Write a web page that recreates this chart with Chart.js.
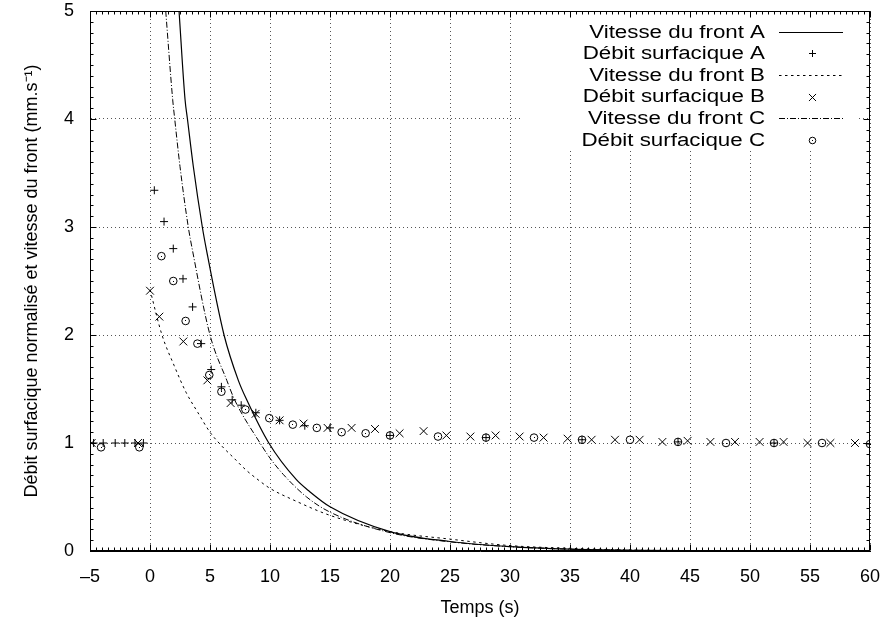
<!DOCTYPE html>
<html>
<head>
<meta charset="utf-8">
<script src="https://cdn.jsdelivr.net/npm/chart.js@4.4.1/dist/chart.umd.min.js"></script>
<style>
html,body{margin:0;padding:0;background:#fff;}
#wrap{width:888px;height:623px;}
</style>
</head>
<body>
<div id="wrap"><canvas id="chart1" width="888" height="623"></canvas></div>
<script>
// front speed curves
var frontA_t = [2.42, 2.92, 3.12, 3.61, 4.36, 4.7, 6.17, 7.36, 8.06, 9.9, 12.2, 13.2, 15, 20, 25, 30, 35, 40, 50, 60];
var frontA_v = [5.0, 4.18, 4.0, 3.56, 3.0, 2.79, 2.0, 1.58, 1.40, 1.0, 0.66, 0.56, 0.41, 0.18, 0.088, 0.04, 0.017, 0.007, 0.001, 0];
var frontB_t = [0, 1, 2, 3, 4, 5, 6, 7, 8, 9, 10, 12, 15, 20, 25, 30, 35, 40, 50, 60];
var frontB_v = [2.42, 2.0, 1.72, 1.47, 1.28, 1.1, 0.97, 0.86, 0.75, 0.66, 0.58, 0.47, 0.33, 0.18, 0.11, 0.05, 0.025, 0.01, 0.002, 0];
var frontC_t = [1.31, 1.89, 2.06, 2.5, 3.19, 3.53, 5.0, 6.4, 7.05, 9.17, 10, 11.1, 13.05, 15, 20, 25, 30, 35, 40, 50, 60];
var frontC_v = [5.0, 4.18, 4.0, 3.56, 3.0, 2.79, 2.0, 1.58, 1.40, 1.0, 0.86, 0.71, 0.50, 0.36, 0.17, 0.085, 0.04, 0.017, 0.007, 0.001, 0];

// measured surface flow rates
var debitA_t = [-4.7, -3.9, -2.9, -2.1, -1.25, -0.55, 0.36, 1.17, 1.94, 2.75, 3.55, 4.27, 5.1, 5.95, 6.85, 7.6, 8.82, 10.8, 12.9, 15, 20, 28, 36, 44, 52, 60];
var debitA_v = [1.0, 1.0, 1.0, 1.0, 1.0, 1.0, 3.34, 3.05, 2.80, 2.52, 2.26, 1.92, 1.68, 1.52, 1.40, 1.35, 1.28, 1.21, 1.16, 1.14, 1.07, 1.05, 1.03, 1.01, 1.0, 0.99];
var debitB_t = [-4.86, -1.0, 0, 0.78, 2.78, 4.78, 6.72, 8.8, 10.8, 12.8, 14.8, 16.8, 18.75, 20.8, 22.8, 24.7, 26.7, 28.8, 30.8, 32.8, 34.8, 36.8, 38.75, 40.8, 42.7, 44.8, 46.7, 48.75, 50.8, 52.8, 54.8, 56.7, 58.75];
var debitB_v = [1.0, 1.0, 2.41, 2.17, 1.94, 1.58, 1.37, 1.27, 1.21, 1.18, 1.14, 1.14, 1.13, 1.09, 1.11, 1.07, 1.06, 1.07, 1.06, 1.05, 1.04, 1.03, 1.03, 1.03, 1.01, 1.02, 1.01, 1.01, 1.01, 1.01, 1.0, 1.0, 1.0];
var debitC_t = [-4.08, -0.89, 0.95, 1.94, 2.97, 3.95, 4.94, 5.95, 7.95, 9.94, 11.9, 13.9, 15.97, 17.97, 20, 24, 28, 32, 36, 40, 44, 48, 52, 56, 60];
var debitC_v = [0.96, 0.96, 2.73, 2.50, 2.13, 1.92, 1.63, 1.475, 1.31, 1.23, 1.17, 1.14, 1.10, 1.09, 1.07, 1.06, 1.05, 1.05, 1.03, 1.03, 1.01, 1.0, 1.0, 1.0, 0.99];

var xTicks = [-5, 0, 5, 10, 15, 20, 25, 30, 35, 40, 45, 50, 55, 60];
var yTicks = [0, 1, 2, 3, 4, 5];

function pts(ts, vs) {
  return ts.map(function(t, i) { return {x: t, y: vs[i]}; });
}

Chart.defaults.font.family = '"Liberation Sans", Arial, Helvetica, sans-serif';
Chart.defaults.font.size = 18;
Chart.defaults.color = '#000';

function lineSet(label, ts, vs, dash, w) {
  return {label: label, data: pts(ts, vs), showLine: true, pointRadius: 0, pointHoverRadius: 0,
    borderColor: '#000', borderWidth: w, borderDash: dash, fill: false, cubicInterpolationMode: 'monotone'};
}
function markSet(label, ts, vs, style, r) {
  return {label: label, data: pts(ts, vs), showLine: false, pointStyle: style, pointRadius: r,
    pointBorderWidth: 1, borderColor: '#000', backgroundColor: 'rgba(0,0,0,0)'};
}

var sets = [
  lineSet('Vitesse du front A', frontA_t, frontA_v, [], 1.2),
  markSet('Débit surfacique A', debitA_t, debitA_v, 'cross', 4),
  lineSet('Vitesse du front B', frontB_t, frontB_v, [2.5, 3.5], 1),
  markSet('Débit surfacique B', debitB_t, debitB_v, 'crossRot', 5.5),
  lineSet('Vitesse du front C', frontC_t, frontC_v, [6, 2, 1, 2], 1),
  markSet('Débit surfacique C', debitC_t, debitC_v, 'circle', 3.8)
];
sets[5].dotted = true;

var frame = {
  id: 'frame',
  beforeDatasetsDraw: function(chart) {
    var ctx = chart.ctx, a = chart.chartArea, xs = chart.scales.x, ys = chart.scales.y;
    ctx.save();
    // legend box hides the grid behind it
    ctx.fillStyle = '#fff';
    ctx.fillRect(521, Math.round(a.top) + 1, 336, 150 - Math.round(a.top));
    ctx.strokeStyle = '#000'; ctx.lineWidth = 1; ctx.setLineDash([]);
    var L = Math.round(a.left) + 0.5, R = Math.round(a.right) - 0.5, T = Math.round(a.top) + 0.5, B = Math.round(a.bottom) - 0.5;
    ctx.strokeRect(L, T, R - L, B - T);
    ctx.beginPath();
    var i, px, len;
    for (i = 0; i <= 130; i++) {
      px = Math.round(xs.getPixelForValue(-5 + i * 0.5)) + 0.5;
      len = (i % 10 === 0) ? 6 : 3;
      ctx.moveTo(px, B); ctx.lineTo(px, B - len);
      ctx.moveTo(px, T); ctx.lineTo(px, T + len);
    }
    for (i = 0; i <= 50; i++) {
      px = Math.round(ys.getPixelForValue(i * 0.1)) + 0.5;
      len = (i % 10 === 0) ? 6 : 3;
      ctx.moveTo(L, px); ctx.lineTo(L + len, px);
      ctx.moveTo(R, px); ctx.lineTo(R - len, px);
    }
    ctx.stroke();

    // legend
    ctx.font = '18px "Liberation Sans", Arial, sans-serif';
    ctx.textAlign = 'right';
    ctx.textBaseline = 'middle';
    chart.data.datasets.forEach(function(ds, k) {
      var y = 31.7 + k * 21.6;
      ctx.save();
      ctx.fillStyle = '#000';
      ctx.translate(765, y + 1);
      ctx.scale(1.24, 1);
      ctx.fillText(ds.label, 0, 0);
      ctx.restore();
      if (ds.showLine) {
        ctx.save();
        ctx.lineWidth = ds.borderWidth;
        ctx.setLineDash(ds.borderDash || []);
        ctx.beginPath();
        ctx.moveTo(779, Math.round(y) + 0.5); ctx.lineTo(843, Math.round(y) + 0.5);
        ctx.stroke();
        ctx.restore();
      } else {
        ctx.fillStyle = 'rgba(0,0,0,0)';
        Chart.helpers.drawPoint(ctx, {pointStyle: ds.pointStyle, radius: ds.pointRadius - 0.5, borderWidth: 1}, 812.5, Math.round(y) + 0.5);
        ctx.fillStyle = '#000';
        if (ds.dotted) ctx.fillRect(812, Math.round(y), 1, 1);
      }
    });
    ctx.restore();
  },
  afterDatasetsDraw: function(chart) {
    // centre dot of the circle markers
    var ctx = chart.ctx;
    ctx.save();
    ctx.fillStyle = '#000';
    chart.data.datasets.forEach(function(ds, k) {
      if (!ds.dotted) return;
      chart.getDatasetMeta(k).data.forEach(function(el) {
        ctx.fillRect(Math.round(el.x - 0.5), Math.round(el.y - 0.5), 1, 1);
      });
    });
    ctx.restore();
  }
};

new Chart(document.getElementById('chart1'), {
  type: 'scatter',
  data: {datasets: sets},
  options: {
    responsive: false,
    animation: false,
    devicePixelRatio: 1,
    layout: {padding: {top: 11, right: 18, left: 0, bottom: 0}},
    plugins: {legend: {display: false}, tooltip: {enabled: false}},
    scales: {
      x: {
        type: 'linear', min: -5, max: 60,
        afterBuildTicks: function(s) { s.ticks = xTicks.map(function(v) { return {value: v}; }); },
        afterFit: function(s) { s.height = 72; s.paddingLeft = 0; s.paddingRight = 0; },
        ticks: {padding: 15, maxRotation: 0,
          callback: function(v) { return v < 0 ? '\u2013' + Math.abs(v) : String(v); }},
        grid: {color: '#555', lineWidth: 1, borderDash: [1, 3], drawTicks: false},
        border: {display: true, color: '#000', dash: [1, 3]},
        title: {display: true, text: 'Temps (s)', padding: {top: 0, bottom: 4}}
      },
      y: {
        type: 'linear', min: 0, max: 5,
        afterBuildTicks: function(s) { s.ticks = yTicks.map(function(v) { return {value: v}; }); },
        afterFit: function(s) { s.width = 90; s.paddingTop = 0; s.paddingBottom = 0; },
        ticks: {padding: 16},
        grid: {color: '#555', lineWidth: 1, borderDash: [1, 3], drawTicks: false},
        border: {display: true, color: '#000', dash: [1, 3]},
        title: {display: true, text: 'Débit surfacique normalisé et vitesse du front (mm.s\u207B\u00B9)', padding: {top: 21, bottom: 0}}
      }
    }
  },
  plugins: [frame]
});
</script>
</body>
</html>
